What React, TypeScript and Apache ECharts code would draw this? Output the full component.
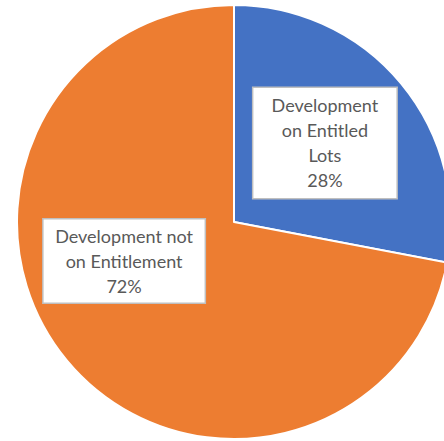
import React, { useEffect, useRef } from "react";
import * as echarts from "echarts";

const categories = ["Development on Entitled Lots", "Development not on Entitlement"];
const values = [28, 72];
const labelLines = [
  ["Development", "on Entitled", "Lots"],
  ["Development not", "on Entitlement"],
];
const colors = ["#4472C4", "#ED7D31"];

export default function App() {
  const ref = useRef<HTMLDivElement>(null);
  useEffect(() => {
    if (!ref.current) return;
    const chart = echarts.init(ref.current, null, { renderer: "svg" });
    const labelBoxes = [
      { width: 123, padding: [5, 10], offset: [5, -8] },
      { width: 143, padding: [4, 9], offset: [-24, -32] },
    ];
    chart.setOption({
      animation: false,
      series: [
        {
          type: "pie",
          center: [234, 222],
          radius: 217,
          startAngle: 90,
          clockwise: true,
          emphasis: { disabled: true },
          itemStyle: { borderColor: "#ffffff", borderWidth: 2 },
          labelLine: { show: false },
          data: categories.map((name, i) => ({
            name,
            value: values[i],
            itemStyle: { color: colors[i] },
            label: {
              show: true,
              position: "inside",
              formatter: (p: any) =>
                labelLines[p.dataIndex].join("\n") + "\n" + Math.round(p.percent) + "%",
              width: labelBoxes[i].width,
              padding: labelBoxes[i].padding,
              offset: labelBoxes[i].offset,
              align: "center",
              color: "#595959",
              fontFamily: "Lato",
              fontSize: 18,
              lineHeight: 25,
              backgroundColor: "#ffffff",
              borderColor: "#BFBFBF",
              borderWidth: 1.5,
            },
          })),
        },
      ],
    });
    return () => chart.dispose();
  }, []);
  return (
    <div
      ref={ref}
      style={{ position: "fixed", left: 0, top: 0, width: 444, height: 441, background: "#fff" }}
    />
  );
}
